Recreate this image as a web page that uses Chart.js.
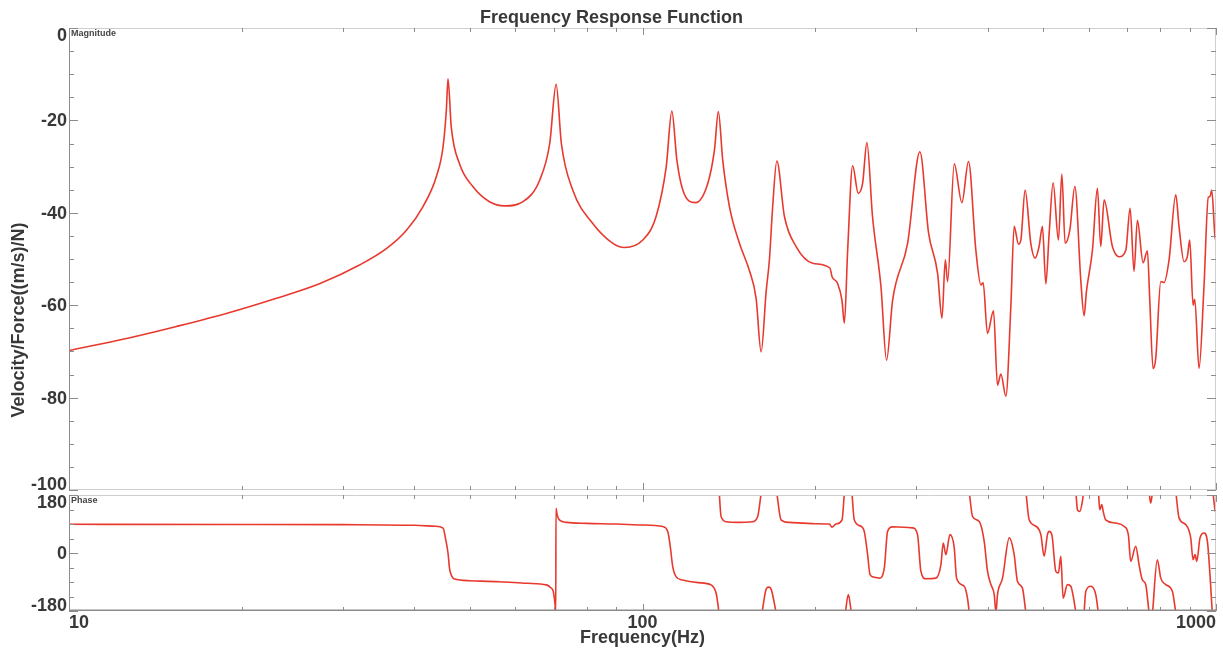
<!DOCTYPE html>
<html>
<head>
<meta charset="utf-8">
<title>Frequency Response Function</title>
<script src="https://cdn.jsdelivr.net/npm/chart.js@4.4.0/dist/chart.umd.min.js"></script>
<style>
  body { margin: 0; background: #fff; }
  #wrap { position: relative; width: 1223px; height: 653px; }
  #wrap canvas { position: absolute; left: 0; }
  #magChart { top: 0; }
  #phaseChart { top: 493px; }
</style>
</head>
<body>
<div id="wrap">
  <canvas id="magChart" width="1223" height="493"></canvas>
  <canvas id="phaseChart" width="1223" height="160"></canvas>
</div>
<script>
// Magnitude curve (Hz, dB)
const magFreq = [10.0, 12.6, 15.4, 18.8, 23.0, 27.4, 32.1, 35.8, 38.8, 41.4, 43.7, 44.9, 45.5, 45.8, 46.4, 48.0,
    50.6, 54.1, 57.5, 61.9, 66.2, 68.9, 70.7, 72.2, 75.6, 81.9, 88.8, 93.0, 100.1, 105.6, 110.0, 112.5,
    114.8, 117.6, 123.7, 130.0, 133.5, 135.6, 138.0, 141.8, 147.6, 153.7, 157.8, 161.0, 164.3, 166.5,
    168.5, 171.5, 176.8, 185.3, 198.0, 212.3, 214.0, 218.9, 222.7, 224.9, 227.9, 232.5, 237.8, 242.0,
    246.2, 251.8, 260.5, 266.4, 273.0, 289.9, 304.6, 315.4, 327.0, 332.8, 337.3, 340.4, 349.6, 360.5,
    370.2, 381.3, 389.1, 392.6, 399.5, 409.3, 415.9, 421.6, 430.1, 438.8, 444.7, 452.4, 456.8, 464.7,
    475.4, 483.8, 491.5, 498.1, 505.0, 511.8, 520.0, 531.2, 538.5, 545.7, 556.1, 567.4, 581.3, 588.9,
    594.3, 608.9, 621.2, 629.6, 638.1, 659.7, 677.7, 696.2, 708.3, 719.6, 729.3, 746.2, 759.2, 766.5,
    776.7, 785.1, 801.1, 811.8, 828.2, 850.9, 862.1, 879.7, 891.3, 900.0, 912.0, 918.3, 934.2, 952.9,
    969.6, 976.2, 982.9, 996.0, 1000];
const magDb = [-69.8, -67.2, -64.6, -61.8, -58.5, -55.3, -51.3, -47.7, -43.7, -38.7, -32.2, -25.7, -17.7, -11.0, -21.4, -29.5,
    -34.3, -37.6, -38.5, -37.6, -32.9, -25.0, -12.2, -25.0, -35.1, -42.3, -46.6, -47.5, -45.9, -40.8, -30.0, -18.0,
    -28.6, -35.1, -37.8, -33.6, -26.4, -18.1, -28.6, -38.7, -46.6, -52.6, -58.5, -70.1, -57.0, -50.0,
    -39.4, -28.8, -40.8, -47.3, -50.9, -52.0, -53.8, -55.3, -58.9, -63.9, -48.1, -29.8, -35.8, -33.6,
    -24.8, -40.8, -56.0, -71.9, -58.9, -46.6, -26.8, -44.4, -53.1, -62.8, -50.2, -54.9, -29.4, -37.8,
    -28.9, -48.1, -55.6, -55.1, -66.1, -61.2, -77.3, -74.9, -79.7, -60.3, -42.9, -46.8, -45.9, -35.1,
    -46.6, -49.8, -47.3, -42.9, -55.4, -44.4, -33.5, -45.9, -31.6, -46.6, -43.7, -34.3, -54.9, -62.3,
    -57.1, -48.1, -34.7, -47.3, -37.2, -47.3, -49.5, -48.1, -39.0, -52.7, -41.6, -50.8, -48.2, -58.9,
    -73.7, -71.5, -54.9, -55.1, -50.2, -36.1, -43.0, -50.6, -49.5, -45.9, -60.0, -58.7, -73.7, -56.0,
    -36.6, -36.5, -35.1, -45.2, -46.0];

// Phase curve (Hz, deg); null breaks the line where the phase wraps
const phaseFreq = [10, 20, 30, 40, 43.5, 44.9, 45.4, 45.8, 46.1, 46.5, 47.0, 50, 56.3, 63, 68.0, 69.2, 69.9, 70.4, 70.6,
    70.65, 71.0, 71.7, 73.7, 80, 90, 100, 108.5, 110.7, 111.8, 112.9, 114.5, 117.5, 125, 131.7, 134.4, 135.5, 136.0, 136.02,
    136.05, 137.1, 139.9, 147, 155.6, 158.8, 161.0, 161.3,
    161.6, 164.3, 166.0, 167.6, 171.0, 171.2,
    171.5, 174.4, 180.3, 200, 211.8, 214.0, 217.5, 222.8, 224.9, 225.3,
    225.8, 228.5, 231.3, 231.6,
    231.9, 234.0, 240.4, 243.6, 246.9, 249.3, 253.6, 258.8, 264.0, 267.5, 272.9, 285, 295.7, 301.7, 305.8, 312.0,
    324.8, 331.4, 334.5, 338.1, 343.6, 349.6, 352.9, 363.9, 368.7, 371.3, 371.4,
    371.5, 376.2, 386.5, 394.3, 399.6, 405.1, 410.5, 413.3, 415.9, 424.4, 436.0, 444.7, 450.6, 459.7, 466.1, 466.25,
    466.4, 472.3, 485.2, 495.0, 501.5, 508.3, 511.7, 517.3, 525.7, 531.2, 536.3, 541.3, 550.7, 558.3, 565.7, 569.6, 569.8,
    570.0, 573.3, 578.8, 584.8, 587.3, 588.0,
    588.8, 592.9, 604.9, 617.1, 623.5, 623.8,
    624.0, 627.0, 632.0, 636.0, 642.1, 668.4, 691.2, 703.3, 710.0, 724.5, 734.2, 743.9, 754.1, 764.2, 764.5,
    764.8, 769.4, 774.5, 774.8,
    775.1, 790.1, 801.1, 817.3, 839.3, 850.9, 851.2,
    851.5, 862.1, 885.6, 903.5, 912.0, 919.3, 925.7, 937.9, 953.1, 966.0, 985.4, 986.5,
    988.1, 996.1, 1000];
const phaseDeg = [89, 88.5, 88, 86, 83, 77, 40, 0, -50, -72, -81, -86, -89, -94, -99, -108, -120, -160, -185,
    139, 118, 102, 95, 92, 90, 87, 82, 66, 20, -42, -74, -84, -92, -99, -125, -165, -190, null,
    190, 113, 97, 95, 97, 113, 185, null,
    -185, -112, -106, -112, -185, null,
    185, 103, 95, 91, 90, 80, 90, 103, 185, null,
    -185, -129, -185, null,
    185, 103, 83, 67, -5, -67, -75, -78, -47, 67, 81, 80, 78, 57, -57, -80,
    -78, -36, 31, -5, 57, 16, -78, -103, -140, -185, null,
    185, 114, 98, 36, -57, -98, -129, -185, -129, -78, 47, -5, -88, -109, -185, null,
    185, 103, 83, 57, -10, 57, 67, 57, -57, -62, -10, -140, -98, -103, -150, -185, null,
    185, 134, 129, 160, 185, null,
    -185, -119, -103, -129, -185, null,
    185, 134, 150, 128, 103, 93, 83, 57, -26, 21, -36, -83, -98, -185, null,
    185, 155, 185, null,
    -185, -21, -78, -98, -119, -185, null,
    185, 109, 88, 47, -21, -5, -26, 47, 62, 36, -185, null,
    185, 134, 125];

const magTicks = [0, -20, -40, -60, -80, -100];
const phaseTicks = [180, 0, -180];
const freqLabels = [10, 100, 1000];

const FONT = '"Liberation Sans", Arial, sans-serif';
const TEXT_COLOR = '#383838';
const AXIS_COLOR = '#8c8c8c';
const FRAME_COLOR = '#cfcfcf';
const LINE_COLOR = '#e8392e';

// every decade tick 10..1000 for the log axis
const freqMinor = [];
for (let d = 10; d < 1000; d *= 10) {
    for (let k = 1; k < 10; k++) freqMinor.push(d * k);
}
freqMinor.push(1000);

function points(xs, ys) {
    return xs.map((x, i) => ({ x: x, y: ys[i] }));
}

// draws the box, inward ticks and tick labels like the original plot
function axisDecor(cfg) {
    return {
        id: 'axisDecor',
        afterDraw(chart) {
            const ctx = chart.ctx;
            const a = chart.chartArea;
            const xs = chart.scales.x;
            const ys = chart.scales.y;
            ctx.save();

            // frame
            ctx.lineWidth = 1;
            ctx.strokeStyle = FRAME_COLOR;
            ctx.beginPath();
            ctx.moveTo(a.left, a.top + 0.5); ctx.lineTo(a.right, a.top + 0.5);
            ctx.moveTo(a.right - 0.5, a.top); ctx.lineTo(a.right - 0.5, a.bottom);
            if (!cfg.xLabels) { ctx.moveTo(a.left, a.bottom - 0.5); ctx.lineTo(a.right, a.bottom - 0.5); }
            ctx.stroke();

            ctx.strokeStyle = AXIS_COLOR;
            ctx.beginPath();
            ctx.moveTo(a.left + 0.5, a.top); ctx.lineTo(a.left + 0.5, a.bottom);
            ctx.stroke();
            if (cfg.xLabels) {
                ctx.lineWidth = 1.5;
                ctx.beginPath();
                ctx.moveTo(a.left, a.bottom - 0.75); ctx.lineTo(a.right, a.bottom - 0.75);
                ctx.stroke();
                ctx.lineWidth = 1;
            }

            // x ticks, top and bottom, pointing inward
            ctx.strokeStyle = AXIS_COLOR;
            ctx.beginPath();
            freqMinor.forEach(f => {
                const px = Math.round(xs.getPixelForValue(f)) + 0.5;
                const len = freqLabels.includes(f) ? 7 : 4;
                ctx.moveTo(px, a.top); ctx.lineTo(px, a.top + len);
                ctx.moveTo(px, a.bottom); ctx.lineTo(px, a.bottom - len);
            });
            // y ticks, left and right
            for (let v = cfg.yMin; v <= cfg.yMax; v += cfg.yStep) {
                const py = Math.round(ys.getPixelForValue(v)) + 0.5;
                const len = cfg.yLabels.includes(v) ? 9 : 5;
                ctx.moveTo(a.left, py); ctx.lineTo(a.left + len, py);
                ctx.moveTo(a.right, py); ctx.lineTo(a.right - len, py);
            }
            ctx.stroke();

            // y tick labels, kept inside the box at the ends
            ctx.fillStyle = TEXT_COLOR;
            ctx.font = 'bold 18px ' + FONT;
            ctx.textAlign = 'right';
            ctx.textBaseline = 'middle';
            cfg.yLabels.forEach(v => {
                let py = ys.getPixelForValue(v);
                py = Math.min(Math.max(py, a.top + 7), a.bottom - 6);
                ctx.fillText(String(v), a.left - 2, py + 1);
            });

            // small caption in the corner
            ctx.font = 'bold 9px ' + FONT;
            ctx.fillStyle = '#444';
            ctx.textAlign = 'left';
            ctx.fillText(cfg.caption, a.left + 2, a.top + 6);

            ctx.fillStyle = TEXT_COLOR;
            if (cfg.title) {
                ctx.font = 'bold 18px ' + FONT;
                ctx.textAlign = 'center';
                ctx.fillText(cfg.title, chart.width / 2, 18);
            }
            if (cfg.yTitle) {
                ctx.font = 'bold 18px ' + FONT;
                ctx.save();
                ctx.translate(19, 320);
                ctx.rotate(-Math.PI / 2);
                ctx.textAlign = 'center';
                ctx.fillText(cfg.yTitle, 0, 0);
                ctx.restore();
            }
            if (cfg.xLabels) {
                ctx.font = 'bold 18px ' + FONT;
                freqLabels.forEach((f, i) => {
                    const px = xs.getPixelForValue(f);
                    ctx.textAlign = i === 0 ? 'left' : (i === freqLabels.length - 1 ? 'right' : 'center');
                    ctx.fillText(String(f), px, a.bottom + 12);
                });
                ctx.textAlign = 'center';
                ctx.fillText(cfg.xTitle, (a.left + a.right) / 2, a.bottom + 27);
            }
            ctx.restore();
        }
    };
}

function baseOptions(yMin, yMax, pad) {
    return {
        responsive: false,
        animation: false,
        events: [],
        layout: { padding: pad },
        plugins: {
            legend: { display: false },
            title: { display: false },
            tooltip: { enabled: false }
        },
        elements: { point: { radius: 0 } },
        scales: {
            x: { type: 'logarithmic', min: 10, max: 1000, display: false },
            y: { type: 'linear', min: yMin, max: yMax, display: false }
        }
    };
}

new Chart(document.getElementById('magChart'), {
    type: 'line',
    data: {
        datasets: [{
            data: points(magFreq, magDb),
            borderColor: LINE_COLOR,
            borderWidth: 1.6,
            cubicInterpolationMode: 'monotone',
            clip: 0
        }]
    },
    options: baseOptions(-100, 0, { left: 69, right: 7, top: 28, bottom: 3 }),
    plugins: [axisDecor({
        yMin: -100, yMax: 0, yStep: 5, yLabels: magTicks,
        caption: 'Magnitude',
        title: 'Frequency Response Function',
        yTitle: 'Velocity/Force((m/s)/N)'
    })]
});

new Chart(document.getElementById('phaseChart'), {
    type: 'line',
    data: {
        datasets: [{
            data: points(phaseFreq, phaseDeg),
            borderColor: LINE_COLOR,
            borderWidth: 1.6,
            cubicInterpolationMode: 'monotone',
            spanGaps: false,
            clip: 0
        }]
    },
    options: baseOptions(-180, 180, { left: 69, right: 7, top: 2, bottom: 42 }),
    plugins: [axisDecor({
        yMin: -180, yMax: 180, yStep: 45, yLabels: phaseTicks,
        caption: 'Phase',
        xLabels: true,
        xTitle: 'Frequency(Hz)'
    })]
});
</script>
</body>
</html>
